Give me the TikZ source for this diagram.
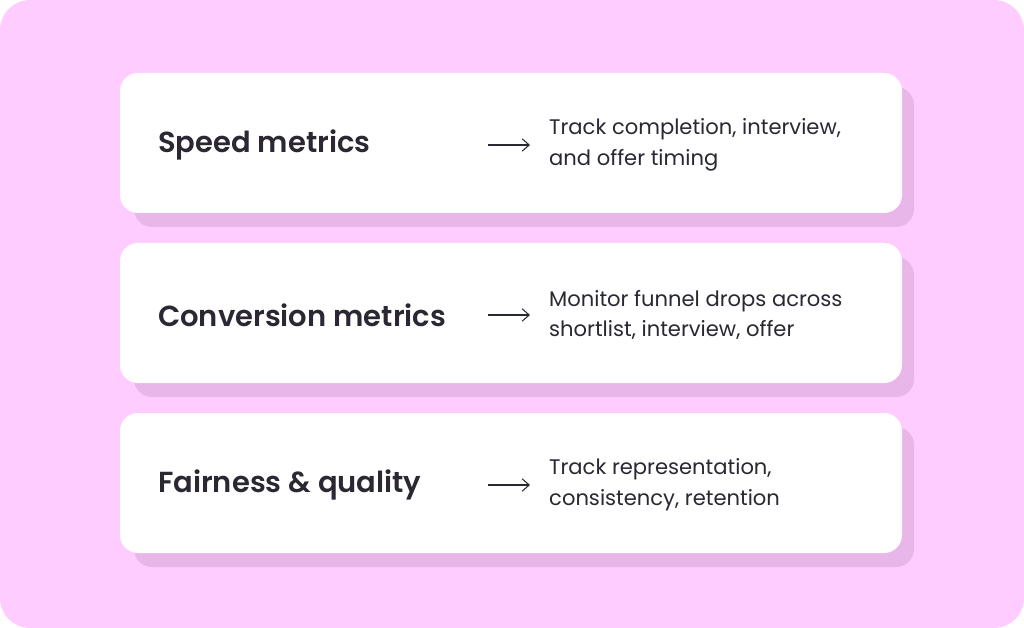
\documentclass[tikz,border=0pt]{standalone}
\usepackage{fontspec}
\setmainfont{Poppins}[BoldFont={Poppins SemiBold}]
\usetikzlibrary{arrows.meta,positioning}
\definecolor{bgpink}{HTML}{FFCCFF}
\definecolor{shadowpink}{HTML}{E9B6E9}
\definecolor{inkdark}{HTML}{2B2733}
\begin{document}
\begin{tikzpicture}[x=0.02cm,y=-0.02cm,
  card/.style={fill=white,rounded corners=0.36cm},
  cardshadow/.style={fill=shadowpink,rounded corners=0.36cm},
  title/.style={anchor=west,text=inkdark,font=\fontsize{16.5}{20}\selectfont\bfseries},
  detail/.style={anchor=west,text=inkdark,align=left,font=\fontsize{12}{17.5}\selectfont},
  link/.style={draw=inkdark,line width=0.6pt,-{Straight Barb[length=4pt,width=7pt]}}]
  \useasboundingbox (0,0) rectangle (1024,628);
  \fill[bgpink,rounded corners=0.6cm] (0,0) rectangle (1024,628);
  \foreach \y/\name/\txt in {73/Speed metrics/{Track completion, interview,\\and offer timing},
    243/Conversion metrics/{Monitor funnel drops across\\shortlist, interview, offer},
    413/Fairness \& quality/{Track representation,\\consistency, retention}} {
    \fill[cardshadow] (134,\y+14) rectangle (914,\y+154);
    \fill[card] (120,\y) rectangle (902,\y+140);
    \node[title] (t\y) at (152,\y+72) {\name};
    \coordinate (a\y) at (488,\y+72);
    \coordinate (b\y) at (530,\y+72);
    \draw[link] (a\y) -- (b\y);
    \node[detail] (d\y) at (543,\y+72) {\txt};
  }
\end{tikzpicture}
\end{document}
